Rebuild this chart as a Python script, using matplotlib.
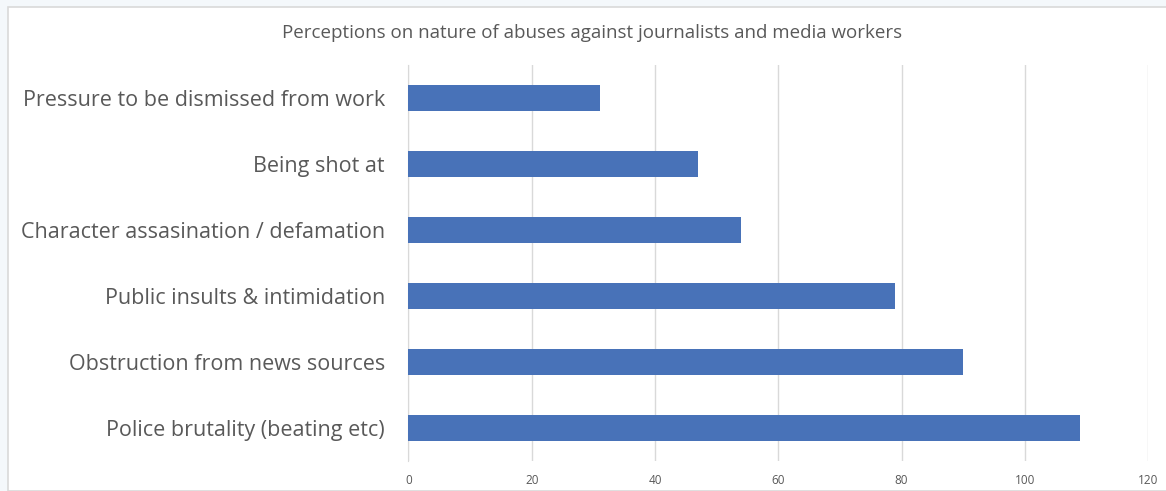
import matplotlib.pyplot as plt
from matplotlib.patches import Rectangle

categories = ['Police brutality (beating etc)',
              'Obstruction from news sources',
              'Public insults & intimidation',
              'Character assasination / defamation',
              'Being shot at',
              'Pressure to be dismissed from work']
counts = [109, 90, 79, 54, 47, 31]
xticks = [0, 20, 40, 60, 80, 100, 120]

text_color = '#595959'
bar_color = '#4872B8'

fig = plt.figure(figsize=(11.66, 4.91), dpi=100)
fig.patch.set_facecolor('#f4f8fb')

# white chart frame
frame = Rectangle((8 / 1166, 0), 1.0, 1 - 7 / 491, transform=fig.transFigure,
                  facecolor='white', edgecolor='#d9d9d9', linewidth=1.2, zorder=-1)
fig.patches.append(frame)

ax = fig.add_axes([408.5 / 1166, 1 - 461 / 491, (1148 - 408.5) / 1166, 396 / 491])
ax.set_facecolor('none')

y = range(len(categories))
ax.barh(y, counts, height=0.4, color=bar_color, zorder=3)

ax.set_xlim(0, 120)
ax.set_ylim(-0.5, len(categories) - 0.5)
ax.set_xticks(xticks)
ax.set_xticklabels([str(t) for t in xticks], fontsize=8.5, color=text_color, family='Open Sans')
ax.set_yticks(list(y))
ax.set_yticklabels(categories, fontsize=15.5, color=text_color, family='Open Sans')
ax.tick_params(axis='both', length=0)
ax.tick_params(axis='y', pad=17)
ax.tick_params(axis='x', pad=9)

ax.grid(axis='x', color='#d9d9d9', linewidth=1, zorder=0)
for s in ['top', 'right', 'bottom']:
    ax.spines[s].set_visible(False)
ax.spines['left'].set_color('#d9d9d9')
ax.spines['left'].set_zorder(1)

fig.text(592 / 1166, 1 - 33 / 491, 'Perceptions on nature of abuses against journalists and media workers',
         ha='center', va='center', fontsize=13.5, color=text_color, family='Open Sans')

fig.savefig('out.png', dpi=100)
